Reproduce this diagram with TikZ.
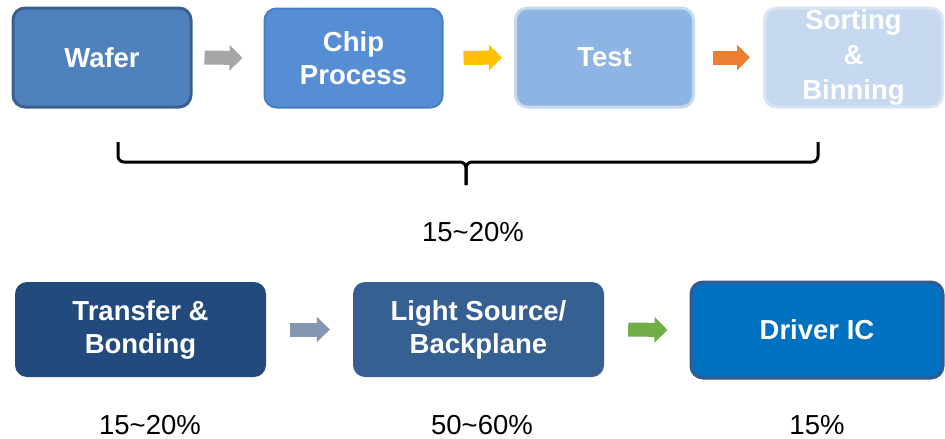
\documentclass[tikz,border=0pt]{standalone}
\usepackage{fontspec}
\setmainfont{Liberation Sans}
\usetikzlibrary{arrows.meta}

\definecolor{waferfill}{HTML}{4F81BD}
\definecolor{waferline}{HTML}{3A5F8E}
\definecolor{chipfill}{HTML}{558ED5}
\definecolor{chipline}{HTML}{4A7EBF}
\definecolor{testfill}{HTML}{8EB4E3}
\definecolor{testline}{HTML}{C6D9F1}
\definecolor{sortfill}{HTML}{C6D9F1}
\definecolor{sortline}{HTML}{DAE5F3}
\definecolor{transferfill}{HTML}{224A7C}
\definecolor{lightfill}{HTML}{366092}
\definecolor{driverfill}{HTML}{0070C0}
\definecolor{driverline}{HTML}{35598F}
\definecolor{arrowgray}{HTML}{A6A6A6}
\definecolor{arrowyellow}{HTML}{FFC000}
\definecolor{arroworange}{HTML}{ED7D31}
\definecolor{arrowslate}{HTML}{8497B0}
\definecolor{arrowgreen}{HTML}{70AD47}

\begin{document}
\begin{tikzpicture}[
        x=1pt, y=-1pt,
        % Stili generali
        box/.style={rounded corners=12pt, text=white, align=center, inner sep=0pt,
            font=\fontsize{27.5}{33}\selectfont\bfseries},
        topbox/.style={box, minimum width=178pt, minimum height=99pt},
        lowbox/.style={box, minimum width=251pt, minimum height=95pt},
        flow/.style={line width=14pt, -{Triangle[length=13pt, width=25pt]}},
        share/.style={font=\fontsize{27.5}{32}\selectfont},
        brace/.style={draw=black, line width=3pt, rounded corners=6pt}
    ]

    \useasboundingbox (0,0) rectangle (945,439);

    % 1. Catena superiore
    \node[topbox, fill=waferfill, draw=waferline, line width=3pt] (wafer) at (102,57.5) {Wafer};
    \node[topbox, fill=chipfill, draw=chipline, line width=2pt] (chip) at (353.5,58) {Chip\\Process};
    \node[topbox, fill=sortfill, draw=sortline, line width=3pt,
        font=\fontsize{27.5}{35}\selectfont\bfseries] (sort) at (853.5,57.5) {Sorting\\\&\\Binning};
    \node[topbox, fill=testfill, draw=testline, line width=3pt] (test) at (604.5,57.5) {Test};

    % 2. Frecce superiori
    \draw[flow, arrowgray] ([xshift=12pt]wafer.east) -- ([xshift=-21pt]chip.west);
    \draw[flow, arrowyellow] ([xshift=20pt]chip.east) -- ([xshift=-12pt]test.west);
    \draw[flow, arroworange] ([xshift=18pt]test.east) -- ([xshift=-13pt]sort.west);

    % 3. Graffa e quota comune
    \coordinate (braceleft) at (118,142);
    \coordinate (braceright) at (818,142);
    \coordinate (bracetip) at (466,185);
    \draw[brace] (braceleft) -- (braceleft |- 0,162) -- (bracetip |- 0,162) -- (bracetip);
    \draw[brace] (braceright) -- (braceright |- 0,162) -- (bracetip |- 0,162) -- (bracetip);
    \node[share] (topshare) at (473,232) {15\textasciitilde20\%};

    % 4. Catena inferiore
    \node[lowbox, fill=transferfill] (transfer) at (140.5,329.5) {Transfer \&\\Bonding};
    \node[lowbox, fill=lightfill] (light) at (478.5,329.5) {Light Source/\\Backplane};
    \node[lowbox, fill=driverfill, draw=driverline, line width=3pt, minimum width=252pt,
        minimum height=96pt] (driver) at (817,330) {Driver IC};

    % 5. Frecce inferiori
    \draw[flow, arrowslate] ([xshift=24pt]transfer.east) -- ([xshift=-23pt]light.west);
    \draw[flow, arrowgreen] ([xshift=24pt]light.east) -- ([xshift=-22pt]driver.west);

    % 6. Quote
    \node[share] (transfershare) at (150,425) {15\textasciitilde20\%};
    \node[share] (lightshare) at (482,425) {50\textasciitilde60\%};
    \node[share] (drivershare) at (817,425) {15\%};

\end{tikzpicture}
\end{document}
